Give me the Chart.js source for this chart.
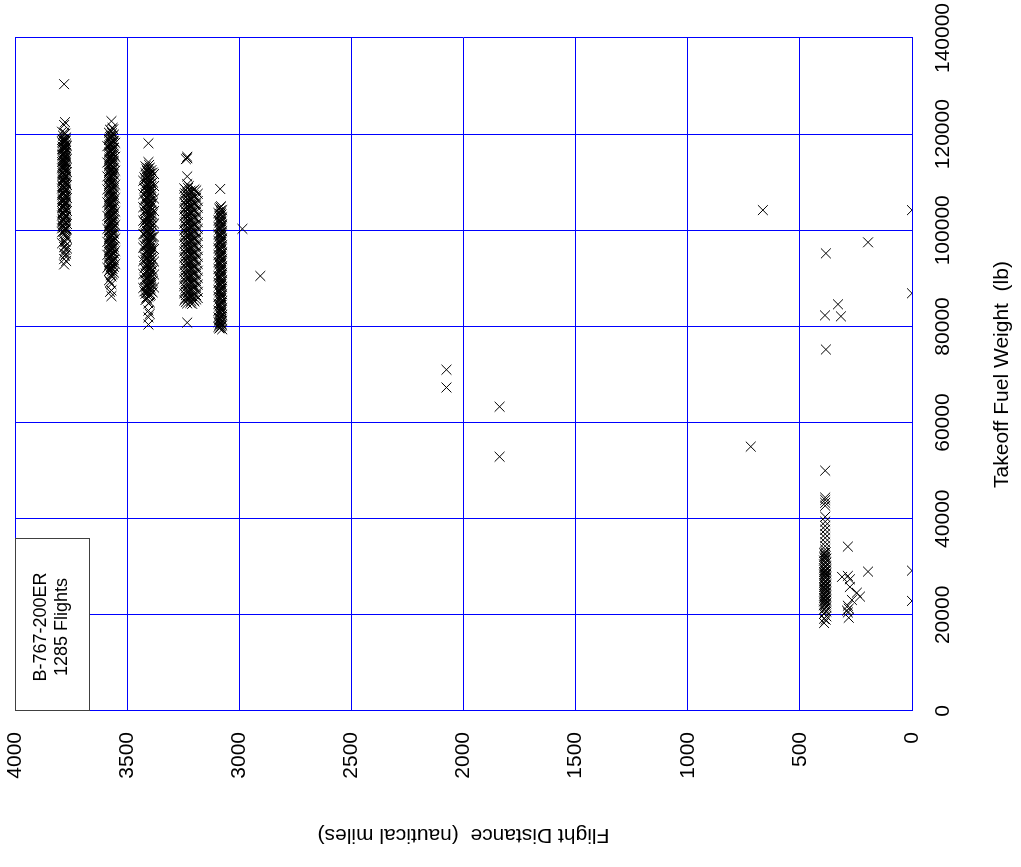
<!DOCTYPE html>
<html>
<head>
<meta charset="utf-8">
<script src="https://cdn.jsdelivr.net/npm/chart.js"></script>
<style>
  html, body { margin: 0; padding: 0; background: #fff; width: 1021px; height: 867px; overflow: hidden; }
  #wrap { position: absolute; left: 0; top: 0; width: 867px; height: 1021px;
          transform-origin: 0 0; transform: translate(0px, 867px) rotate(-90deg); }
  canvas { display: block; }
</style>
</head>
<body>
<div id="wrap"><canvas id="c" width="867" height="1021"></canvas></div>
<script>
// ---- text ----
const xTitle = 'Takeoff Fuel Weight  (lb)';
const yTitle = 'Flight Distance  (nautical miles)';
const noteLines = ['B-767-200ER', '1285 Flights'];

// ---- tick values ----
const fuelTicks = [0, 20000, 40000, 60000, 80000, 100000, 120000, 140000];
const distanceTicks = [0, 500, 1000, 1500, 2000, 2500, 3000, 3500, 4000];

// ---- flight clusters: distance (nmi) of each sub-column, fuel (lb) of each flight ----
const clusterA_dist = [3781, 3772, 3790, 3777, 3786, 3775, 3768, 3779, 3783, 3788, 3774];
const clusterA_fuel = [
  [130400, 121900, 120300, 118700, 117300, 116000, 114500, 113300, 111700, 110400, 109000, 107600, 106300, 104800, 103500, 102100, 100700, 99200, 97800, 96500, 95200, 94000, 92900],
  [119300, 117900, 116500, 115300, 113900, 112600, 111100, 109800, 108300, 107000, 105600, 104300, 102800, 101500, 100200, 98600, 96900, 95100, 93600],
  [120500, 118300, 116900, 115600, 114200, 112900, 111400, 110100, 108700, 107300, 105900, 104600, 103100, 101800, 100400, 99600, 97300],
  [122500, 118900, 116200, 113600, 110900, 108100, 105300, 102600, 99900, 94700],
  [119700, 118100, 116800, 115000, 113700, 112200, 110800, 109300, 108000, 106600, 105200, 103800, 102400, 101000, 99800],
  [120100, 118500, 117000, 115900, 114400, 113000, 111500, 110200, 108800, 107400, 106000, 104600, 103200, 101900, 100500, 97600, 95900],
  [117600, 114900, 112100, 109400, 106700, 104000, 101300, 98300, 96200],
  [119000, 117700, 116400, 115100, 113800, 112400, 111000, 109600, 108300, 106900, 105500, 104100, 102700, 101300, 100000],
  [118400, 117100, 115700, 114300, 112900, 111600, 110200, 108900, 107500, 106100, 104700, 103400, 102000, 100600],
  [118900, 117400, 115800, 114600, 113200, 111800, 110500, 109100, 107700, 106300, 104900, 103500, 102200, 100900],
  [118700, 117200, 115500, 114100, 112700, 111300, 109900, 108500, 107100, 105800, 104400, 103000, 101600, 100300, 99000]
];

const clusterB_dist = [3570, 3559, 3581, 3588, 3565, 3576, 3553, 3567, 3573, 3579, 3562];
const clusterB_fuel = [
  [122700, 120600, 119200, 117800, 116400, 115100, 113700, 112400, 110900, 109700, 108200, 107000, 105500, 104300, 102800, 101600, 100100, 98900, 97400, 96200, 94700, 93500, 92100, 90400, 88800, 87500, 86300],
  [119900, 118500, 117100, 115700, 114300, 112900, 111600, 110200, 108800, 107400, 106100, 104700, 103300, 102000, 100600, 99300, 97900, 96500, 95200, 93800, 92400, 91200],
  [120300, 118800, 117400, 116000, 114700, 113300, 111900, 110500, 109200, 107800, 106400, 105100, 103700, 102300, 100900, 99600, 98200, 96800, 95500, 94100, 92700, 91500, 89600],
  [117500, 114100, 111200, 108500, 105800, 103000, 100300, 97600, 94900, 92200],
  [121300, 119600, 118100, 116700, 115400, 114000, 112600, 111200, 109900, 108500, 107100, 105800, 104400, 103000, 101700, 100300, 98900, 97600, 96200, 94800, 93400, 92000, 90900],
  [120900, 119400, 118000, 116600, 115200, 113900, 112500, 111100, 109700, 108400, 107000, 105600, 104200, 102900, 101500, 100100, 98700, 97300, 96000, 94600, 93200, 91800, 89200, 87200],
  [118200, 115300, 112400, 109500, 106700, 103900, 101100, 98300, 95700, 93000],
  [120200, 118900, 117500, 116100, 114800, 113400, 112000, 110700, 109300, 107900, 106500, 105200, 103800, 102400, 101100, 99700, 98300, 97000, 95600, 94200, 92800, 91500],
  [119700, 118300, 116900, 115600, 114200, 112800, 111400, 110100, 108700, 107300, 106000, 104600, 103200, 101800, 100500, 99100, 97700, 96400, 95000, 93600, 92300, 90700],
  [119000, 117700, 116300, 114900, 113600, 112200, 110800, 109400, 108100, 106700, 105300, 104000, 102600, 101200, 99900, 98500, 97100, 95800, 94400, 93000, 91700],
  [121000, 118600, 117200, 115900, 114500, 113100, 111800, 110400, 109000, 107700, 106300, 104900, 103500, 102200, 100800, 99400, 98100, 96700, 95300, 93900, 92600]
];

const clusterC_dist = [3405, 3418, 3392, 3380, 3428, 3399, 3411, 3386, 3423, 3402, 3414, 3395, 3408];
const clusterC_fuel = [
  [118100, 114200, 112800, 111400, 109900, 108600, 107200, 105800, 104400, 103000, 101600, 100200, 98800, 97400, 96000, 94600, 93200, 91800, 90400, 89000, 87600, 86200, 84800, 83300, 81900, 80400],
  [113300, 111900, 110500, 109100, 107700, 106300, 104900, 103500, 102100, 100800, 99400, 98000, 96600, 95200, 93800, 92400, 91000, 89600, 88200, 86800, 85500],
  [112500, 111100, 109700, 108300, 106900, 105500, 104100, 102700, 101300, 99900, 98500, 97100, 95700, 94300, 92900, 91500, 90100, 88700, 87300],
  [111700, 109200, 106600, 104000, 101400, 98700, 96100, 93500, 90800, 88100],
  [110300, 107500, 104800, 102000, 99200, 96400, 93600, 90900, 88000],
  [113000, 111600, 110200, 108800, 107400, 106000, 104600, 103200, 101800, 100400, 99000, 97600, 96200, 94800, 93400, 92000, 90600, 89200, 87800, 86400, 85000, 82600],
  [112300, 110900, 109400, 108000, 106600, 105200, 103800, 102400, 101000, 99600, 98200, 96800, 95400, 94000, 92600, 91200, 89800, 88400, 87000, 85800],
  [112000, 110000, 107900, 105600, 103300, 101000, 98600, 96300, 94000, 91700, 89400, 87100],
  [111000, 108700, 106300, 103900, 101600, 99200, 96900, 94500, 92100, 89700, 87300],
  [113600, 112200, 110800, 109400, 108000, 106600, 105200, 103800, 102400, 101000, 99600, 98200, 96800, 95400, 94000, 92600, 91200, 89800, 88400, 87000],
  [112700, 111300, 109800, 108400, 107000, 105600, 104200, 102800, 101400, 100000, 98600, 97200, 95800, 94400, 93000, 91600, 90200, 88800, 87400, 86000],
  [111900, 110400, 109000, 107600, 106200, 104800, 103400, 102000, 100600, 99200, 97800, 96400, 95000, 93600, 92200, 90800, 89400, 88000, 86600],
  [111200, 109700, 108300, 106800, 105400, 104000, 102600, 101200, 99800, 98400, 97000, 95600, 94200, 92800, 91400, 90000, 88600, 87200]
];

const clusterD_dist = [3232, 3245, 3218, 3200, 3185, 3238, 3225, 3210, 3192, 3228, 3214, 3204, 3241];
const clusterD_fuel = [
  [115300, 115000, 111200, 109600, 108000, 106500, 105000, 103600, 102100, 100700, 99200, 97800, 96300, 94900, 93400, 92000, 90500, 89100, 87600, 86200, 84800, 80800],
  [108700, 107300, 105800, 104300, 102900, 101400, 100000, 98500, 97100, 95600, 94200, 92700, 91300, 89800, 88400, 86900, 85400],
  [108200, 106700, 105200, 103800, 102300, 100900, 99400, 98000, 96500, 95100, 93600, 92200, 90700, 89300, 87800, 86400, 84900],
  [108500, 107000, 105600, 104100, 102700, 101200, 99800, 98300, 96900, 95400, 94000, 92500, 91100, 89600, 88200, 86700, 85200],
  [107600, 106100, 104700, 103200, 101700, 100300, 98800, 97400, 95900, 94500, 93000, 91600, 90100, 88700, 87200, 85900],
  [114800, 108400, 106900, 105400, 103900, 102500, 101000, 99600, 98100, 96700, 95200, 93800, 92300, 90900, 89400, 88000, 86500, 85100],
  [109200, 107800, 106300, 104800, 103400, 101900, 100500, 99000, 97600, 96100, 94700, 93200, 91800, 90300, 88900, 87400, 86000],
  [108100, 106600, 105100, 103700, 102200, 100800, 99300, 97900, 96400, 95000, 93500, 92100, 90600, 89200, 87700, 86300, 84700],
  [108300, 106800, 105400, 103900, 102500, 101000, 99600, 98100, 96700, 95200, 93800, 92300, 90900, 89400, 88000, 86500, 85600],
  [108800, 107400, 105900, 104500, 103000, 101600, 100100, 98700, 97200, 95800, 94300, 92900, 91400, 90000, 88500, 87100, 85700],
  [107900, 106400, 104900, 103500, 102000, 100600, 99100, 97700, 96200, 94800, 93300, 91900, 90400, 89000, 87500, 86100, 85300],
  [107300, 105800, 104400, 102900, 101500, 100000, 98600, 97100, 95700, 94200, 92800, 91300, 89900, 88400, 87000, 85500],
  [107700, 106200, 104700, 103200, 101800, 100300, 98900, 97400, 96000, 94500, 93100, 91600, 90200, 88700, 87300, 85800]
];

const clusterE_dist = [3085, 3076, 3093, 3081, 3089, 3083, 3079];
const clusterE_fuel = [
  [108600, 104800, 103400, 101900, 100500, 99000, 97600, 96100, 94700, 93200, 91800, 90300, 88900, 87400, 86000, 84500, 83100, 81700, 80700, 79700],
  [104200, 102700, 101200, 99800, 98300, 96900, 95400, 94000, 92500, 91100, 89600, 88200, 86700, 85300, 83800, 82400, 81200, 80200, 79400],
  [103600, 102100, 100700, 99200, 97800, 96300, 94900, 93400, 92000, 90500, 89100, 87600, 86200, 84700, 83300, 81900, 80900, 79900],
  [105000, 103700, 102300, 100800, 99400, 97900, 96500, 95000, 93600, 92100, 90700, 89200, 87800, 86300, 84900, 83400, 82000, 81000, 80000],
  [104500, 103000, 101600, 100100, 98700, 97200, 95800, 94300, 92900, 91400, 90000, 88500, 87100, 85600, 84200, 82700, 81400, 80400, 79600],
  [104100, 102600, 101100, 99600, 98200, 96700, 95300, 93800, 92400, 90900, 89500, 88000, 86600, 85100, 83700, 82200, 80800, 79800],
  [103300, 101800, 100300, 98900, 97400, 96000, 94500, 93100, 91600, 90200, 88700, 87300, 85800, 84400, 82900, 81500, 80500]
];

const clusterF_dist = [392, 382, 387, 389, 385];
const clusterF_fuel = [
  [32900, 32100, 31300, 30500, 29700, 28900, 28200, 27400, 26600, 25800, 25100, 24300, 23500, 22800, 22000, 21100, 20200, 19200, 18300],
  [31700, 30900, 30100, 29300, 28600, 27800, 27000, 26200, 25400, 24700, 23900, 23100, 22400, 21600, 20700, 19700],
  [50000, 44400, 43900, 43300, 42700, 40400, 39400, 38500, 37700, 36800, 36000, 35100, 34300, 33600],
  [32500, 31700, 30900, 30100, 29300, 28500, 27800, 27000, 26200, 25400, 24600, 23900, 23100, 22300, 21400, 20500],
  [33000, 32200, 31500, 30700, 29900, 29100, 28300, 27600, 26800, 26000, 25200, 24400, 23700, 22900, 22100, 19000]
];

// short-haul scattered group
const groupG_dist = [286, 312, 286, 277, 277, 246, 232, 268, 286, 282, 290, 286, 282];
const groupG_fuel = [34200, 27900, 28100, 27400, 25800, 24600, 23800, 23100, 21900, 21300, 20900, 20500, 19400];

// isolated flights
const isolated_dist = [665, 0, 196, 384, 0, 330, 388, 317, 384, 719, 2076, 2076, 1839, 1839, 2906, 2986, 0, 0, 196];
const isolated_fuel = [104200, 104200, 97500, 95200, 86900, 84600, 82300, 82100, 75200, 55000, 71000, 67300, 63300, 52900, 90500, 100300, 29200, 22900, 29000];

// ---- build point list (x = fuel, y = distance; whole chart is rotated by CSS) ----
const points = [];
function addCluster(dists, fuels) {
  dists.forEach((d, i) => fuels[i].forEach(f => points.push({ x: f, y: d })));
}
function addPairs(dists, fuels) {
  dists.forEach((d, i) => points.push({ x: fuels[i], y: d }));
}
addCluster(clusterA_dist, clusterA_fuel);
addCluster(clusterB_dist, clusterB_fuel);
addCluster(clusterC_dist, clusterC_fuel);
addCluster(clusterD_dist, clusterD_fuel);
addCluster(clusterE_dist, clusterE_fuel);
addCluster(clusterF_dist, clusterF_fuel);
addPairs(groupG_dist, groupG_fuel);
addPairs(isolated_dist, isolated_fuel);

const FONT = "'Liberation Sans', Arial, Helvetica, sans-serif";
const BLUE = '#0000ff';

const notePlugin = {
  id: 'note',
  afterDraw(chart) {
    const { ctx, chartArea } = chart;
    const x0 = Math.round(chartArea.left), y0 = Math.round(chartArea.top);
    const w = 172, h = 74;
    ctx.save();
    ctx.fillStyle = '#ffffff';
    ctx.fillRect(x0, y0, w, h);
    ctx.strokeStyle = '#404040';
    ctx.lineWidth = 1;
    ctx.strokeRect(x0 + 0.5, y0 + 0.5, w, h);
    ctx.fillStyle = '#000';
    ctx.font = '18px ' + FONT;
    ctx.textAlign = 'center';
    ctx.textBaseline = 'middle';
    ctx.fillText(noteLines[0], x0 + w / 2 - 2, y0 + 26);
    ctx.fillText(noteLines[1], x0 + w / 2 - 2, y0 + 47);
    ctx.restore();
  }
};

const tickFont = { family: FONT, size: 21, lineHeight: 1 };
function zeroPad(s) { s.paddingLeft = 0; s.paddingRight = 0; s.paddingTop = 0; s.paddingBottom = 0; }

new Chart(document.getElementById('c'), {
  type: 'scatter',
  data: {
    datasets: [{
      data: points,
      pointStyle: 'crossRot',
      pointRadius: 7,
      pointHoverRadius: 7,
      borderColor: '#000',
      backgroundColor: '#000',
      borderWidth: 1
    }]
  },
  options: {
    responsive: false,
    animation: false,
    devicePixelRatio: 1,
    events: [],
    layout: { padding: { top: 15, right: 38, left: 0, bottom: 0 } },
    plugins: { legend: { display: false }, tooltip: { enabled: false } },
    scales: {
      x: {
        type: 'linear', position: 'bottom', min: 0, max: 140000,
        afterBuildTicks: s => { s.ticks = fuelTicks.map(v => ({ value: v })); },
        afterFit: s => { s.height = 109; zeroPad(s); },
        ticks: { color: '#000', font: tickFont, padding: 21, maxRotation: 0, minRotation: 0, autoSkip: false,
                 callback: v => String(v) },
        grid: { color: BLUE, lineWidth: 1, drawTicks: false },
        border: { color: BLUE, width: 1 },
        title: { display: true, text: xTitle, color: '#000', font: tickFont, padding: { top: 0, bottom: 8 } }
      },
      y: {
        type: 'linear', position: 'left', min: 0, max: 4000,
        afterBuildTicks: s => { s.ticks = distanceTicks.map(v => ({ value: v })); },
        afterFit: s => { s.width = 156; zeroPad(s); },
        ticks: { color: '#000', font: tickFont, padding: 21, autoSkip: false, callback: v => String(v) },
        grid: { color: BLUE, lineWidth: 1, drawTicks: false },
        border: { color: BLUE, width: 1 },
        title: { display: true, text: yTitle, color: '#000', font: tickFont, padding: { top: 22, bottom: 0 } }
      }
    }
  },
  plugins: [notePlugin]
});
</script>
</body>
</html>
